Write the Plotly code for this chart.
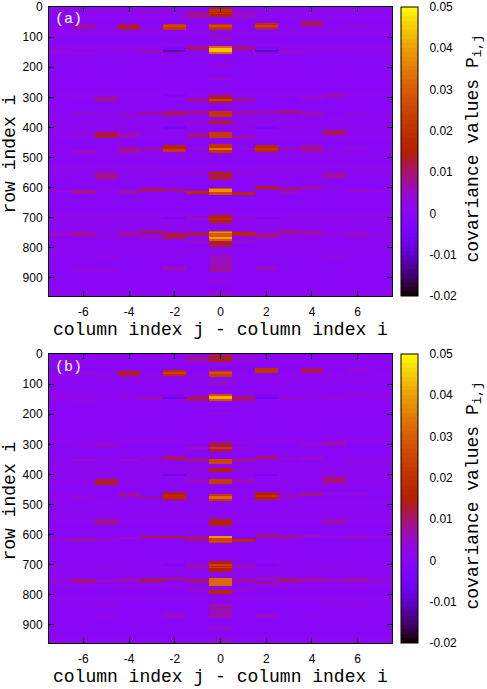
import math
import plotly.graph_objects as go

# column offsets j - i and row bins
offsets = [-7, -6, -5, -4, -3, -2, -1, 0, 1, 2, 3, 4, 5, 6, 7]
row_step = 4
row_count = 240
background = 0.0005
# faint horizontal shading of the background, one value per 20 rows
row_shade = [.0012,.0010,.0006,.0012,.0008,.0004,.0008,.0010,.0004,.0002,.0006,.0003,.0002,.0005,.0008,.0003,
             .0001,.0006,.0009,.0012,.0015,.0012,.0006,.0003,.0008,.0006,.0010,.0012,.0006,.0002,.0003,.0006,
             .0004,.0002,.0008,.0010,.0012,.0013,.0008,.0006,.0010,.0006,.0004,.0002,.0006,.0003,.0006,.0010]

# bands: (first row, last row, covariance); later bands overwrite earlier ones
a_m7 = [(146,152,.003),(348,354,.004),(472,478,.002),(612,618,.006),(754,760,.006)]
a_m6 = [(55,72,.007),(138,142,.004),(150,155,.004),(300,306,.002),(350,356,.005),(415,425,.003),(478,486,.006),(610,622,.009),(750,760,.008),(865,880,.002)]
a_m5 = [(15,20,.003),(138,142,.002),(298,315,.007),(355,360,.005),(415,435,.012),(550,575,.008),(612,618,.005),(705,712,.004),(760,766,.005),(865,880,.002),(825,840,.002)]
a_m4 = [(56,75,.012),(146,150,.004),(308,312,.005),(355,362,.010),(415,435,.006),(465,485,.008),(610,622,.007),(750,762,.008)]
a_m3 = [(16,22,.006),(72,76,.003),(146,150,.007),(348,352,.015),(472,478,.014),(600,610,.008),(606,612,.015),(746,752,.014),(760,770,.006)]
a_m2 = [(55,75,.022),(60,70,.026),(132,150,-.002),(135,138,-.012),(144,147,-.012),(290,300,-.002),(346,362,.010),(355,360,.016),(395,405,-.004),(460,482,.016),(472,482,.022),(545,555,.003),(604,612,.012),(695,703,-.002),(748,772,.010),(764,770,.016),(862,878,.006)]
a_m1 = [(15,35,.008),(134,140,.016),(306,312,.012),(346,358,.009),(380,388,.003),(420,432,.008),(430,434,.015),(468,474,.006),(548,556,.005),(612,622,.018),(700,708,.006),(750,760,.011),(778,790,.004)]
a_0 = [(3,33,.014),(10,16,.021),(22,26,.021),(55,77,.021),(62,68,.028),(92,110,.005),(130,156,.032),(138,148,.044),(193,198,.008),(238,243,.006),(293,322,.013),(306,314,.024),(346,366,.021),(381,390,.015),(418,437,.022),(458,486,.021),(470,478,.033),(548,575,.012),(550,556,.016),(602,625,.026),(606,616,.038),(694,718,.014),(702,708,.018),(745,775,.030),(748,754,.038),(764,772,.041),(775,795,.012),(825,880,.006),(868,876,.009),(905,915,.004),(945,960,.004)]
a_p1 = [(15,35,.005),(134,140,.014),(306,312,.012),(346,358,.008),(380,388,.003),(428,434,.016),(468,474,.006),(548,556,.005),(618,626,.018),(700,708,.005),(750,760,.017),(778,790,.003)]
a_p2 = [(52,72,.019),(60,68,.024),(132,150,-.002),(135,138,-.012),(144,147,-.012),(345,358,.007),(395,404,-.003),(460,482,.018),(468,478,.022),(598,606,.014),(695,703,-.001),(748,760,.007),(764,770,.017),(862,878,.005)]
a_p3 = [(20,26,.005),(146,152,.005),(346,352,.012),(468,474,.012),(600,610,.012),(612,620,.005),(746,752,.012),(760,770,.004)]
a_p4 = [(50,66,.011),(148,154,.003),(298,312,.004),(348,360,.007),(460,482,.008),(596,606,.008),(745,756,.007),(860,870,.002)]
a_p5 = [(140,146,.004),(290,302,.007),(410,425,.011),(468,474,.004),(552,568,.008),(604,610,.004),(700,708,.003),(752,758,.004),(826,840,.002)]
a_p6 = [(55,65,.004),(148,152,.002),(350,356,.003),(465,475,.004),(606,614,.007),(750,760,.005),(860,870,.002)]
a_p7 = [(150,154,.002),(350,354,.002),(610,616,.004),(755,762,.005)]

b_m7 = [(146,152,.002),(348,354,.004),(470,476,.003),(616,622,.007),(752,758,.005)]
b_m6 = [(55,68,.004),(150,156,.004),(300,310,.002),(350,358,.006),(470,480,.004),(612,622,.008),(750,760,.009),(835,845,.002)]
b_m5 = [(296,310,.005),(348,354,.005),(415,435,.013),(550,570,.008),(612,620,.005),(705,712,.004),(752,758,.006),(830,842,.002),(865,880,.002)]
b_m4 = [(56,72,.013),(142,150,.003),(350,358,.006),(460,478,.007),(608,618,.006),(745,757,.006)]
b_m3 = [(16,22,.004),(145,151,.006),(348,354,.010),(472,478,.012),(606,612,.012),(745,757,.010),(762,768,.005)]
b_m2 = [(54,74,.019),(60,70,.024),(136,140,-.003),(144,148,-.006),(340,352,.009),(346,350,.016),(400,404,-.006),(460,486,.015),(470,480,.018),(604,614,.013),(698,703,-.002),(744,754,.008),(746,750,.017),(862,878,.005)]
b_m1 = [(10,30,.007),(140,156,.010),(310,318,.006),(346,360,.008),(384,392,.004),(418,430,.005),(472,476,.003),(604,622,.009),(702,712,.007),(750,762,.009),(782,792,.004)]
b_0 = [(6,28,.012),(10,16,.015),(56,75,.023),(62,70,.028),(92,105,.006),(133,158,.028),(140,149,.042),(195,200,.006),(239,243,.005),(291,324,.011),(308,318,.022),(347,364,.025),(380,393,.014),(416,433,.022),(463,488,.022),(472,480,.032),(548,574,.014),(604,629,.025),(606,614,.040),(690,723,.015),(698,704,.024),(708,712,.024),(745,771,.032),(784,795,.017),(828,878,.006),(840,850,.008),(868,874,.008),(910,915,.005),(945,960,.003)]
b_p1 = [(10,30,.004),(140,156,.010),(310,318,.005),(346,360,.007),(384,392,.003),(418,430,.006),(472,476,.004),(618,624,.018),(702,712,.006),(748,756,.008),(782,792,.003)]
b_p2 = [(50,66,.021),(136,140,-.004),(146,150,-.004),(340,350,.011),(400,406,-.004),(460,484,.015),(470,476,.020),(600,610,.013),(698,703,-.002),(740,752,.006),(762,766,.015),(866,878,.005)]
b_p3 = [(20,26,.004),(148,154,.007),(344,350,.008),(470,476,.009),(604,612,.011),(745,755,.009),(762,770,.003)]
b_p4 = [(50,64,.011),(148,154,.002),(296,310,.003),(342,352,.005),(460,474,.008),(600,610,.006),(742,756,.006),(860,870,.002)]
b_p5 = [(145,151,.004),(290,304,.006),(410,428,.010),(462,470,.004),(548,564,.007),(606,612,.004),(704,712,.004),(750,758,.006),(826,838,.002)]
b_p6 = [(50,60,.003),(136,142,.005),(350,356,.003),(460,470,.003),(604,612,.006),(746,758,.007),(830,840,.002)]
b_p7 = [(140,146,.003),(350,356,.003),(606,612,.004),(750,756,.004)]

panel_a = [a_m7,a_m6,a_m5,a_m4,a_m3,a_m2,a_m1,a_0,a_p1,a_p2,a_p3,a_p4,a_p5,a_p6,a_p7]
panel_b = [b_m7,b_m6,b_m5,b_m4,b_m3,b_m2,b_m1,b_0,b_p1,b_p2,b_p3,b_p4,b_p5,b_p6,b_p7]

x_ticks = [-6, -4, -2, 0, 2, 4, 6]
x_labels = ["-6", "-4", "-2", "0", "2", "4", "6"]
y_ticks = list(range(0, 901, 100))
cbar_ticks = [-0.02, -0.01, 0, 0.01, 0.02, 0.03, 0.04, 0.05]
cbar_labels = ["-0.02", "-0.01", "0", "0.01", "0.02", "0.03", "0.04", "0.05"]
zmin, zmax = -0.02, 0.05

# gnuplot's rgbformulae 7,5,15 sampled in 64 steps
levels = 64
colorscale = []
for k in range(levels):
    for t in (k / levels, (k + 1) / levels):
        m = (k + 0.5) / levels
        r, g, b = math.sqrt(m), m ** 3, max(0, math.sin(2 * math.pi * m))
        colorscale.append([t, f"rgb({r*255:.0f},{g*255:.0f},{b*255:.0f})"])

rows = [row_step * (n + 0.5) for n in range(row_count)]


def to_grid(columns):
    grid = [[row_shade[int(r // 20)] for _ in columns] for r in rows]
    for c, bands in enumerate(columns):
        for first, last, value in bands:
            for n, row in enumerate(rows):
                if first <= row < last:
                    grid[n][c] = value
    return grid


W, H = 487, 689
fx = lambda px: px / W
fy = lambda py: 1 - py / H
MONO = "Liberation Mono"
SANS = "Liberation Sans"
BAR_L, BAR_R = 401, 418

fig = go.Figure()
panels = [(panel_a, "x", "y", 7, 296, "(a)"), (panel_b, "x2", "y2", 354, 643, "(b)")]
for columns, xa, ya, top, bottom, tag in panels:
    fig.add_trace(go.Heatmap(
        x=offsets, y=rows, z=to_grid(columns), xaxis=xa, yaxis=ya,
        zmin=zmin, zmax=zmax, colorscale=colorscale, zsmooth=False,
        colorbar=dict(
            x=fx(BAR_L), xanchor="left", xref="paper", y=fy(bottom), yanchor="bottom",
            len=(bottom - top) / H, lenmode="fraction", thickness=BAR_R - BAR_L, thicknessmode="pixels",
            xpad=0, ypad=0, outlinecolor="black", outlinewidth=1,
            tickmode="array", tickvals=cbar_ticks, ticktext=cbar_labels,
            ticks="outside", ticklen=9, tickcolor="rgba(0,0,0,0)",
            tickfont=dict(family=SANS, size=12, color="black"),
        ),
    ))
    for v in cbar_ticks[1:-1]:
        py = bottom - (v - zmin) / (zmax - zmin) * (bottom - top)
        for a, b in ((BAR_L, BAR_L + 4), (BAR_R - 4, BAR_R)):
            fig.add_shape(type="line", xref="paper", yref="paper", x0=fx(a), x1=fx(b), y0=fy(py), y1=fy(py),
                          line=dict(color="black", width=1))
    fig.add_annotation(xref="paper", yref="paper", x=fx(53), y=fy(top + 13), text=tag,
                       showarrow=False, xanchor="left", yanchor="middle",
                       font=dict(family=MONO, size=15, color="white"))
    fig.add_annotation(xref="paper", yref="paper", x=fx(9), y=fy((top + bottom) / 2 + 3), text="row index i",
                       showarrow=False, textangle=-90, xanchor="center", yanchor="middle",
                       font=dict(family=MONO, size=18, color="black"))
    fig.add_annotation(xref="paper", yref="paper", x=fx(220), y=fy(bottom + 34),
                       text="column index j - column index i", showarrow=False, xanchor="center", yanchor="middle",
                       font=dict(family=MONO, size=18, color="black"))
    fig.add_annotation(xref="paper", yref="paper", x=fx(474), y=fy((top + bottom) / 2 - 3),
                       text="covariance values P<sub>i,j</sub>", showarrow=False, textangle=-90,
                       xanchor="center", yanchor="middle",
                       font=dict(family=MONO, size=18, color="black"))

axis_x = dict(range=[-7.5, 7.5], tickmode="array", tickvals=x_ticks, ticktext=x_labels, ticks="inside", ticklen=5,
              tickcolor="black", showgrid=False, zeroline=False, showline=True, linecolor="black",
              linewidth=1, mirror="allticks", ticklabelstandoff=5, tickfont=dict(family=SANS, size=12, color="black"))
axis_y = dict(range=[960, 0], tickmode="array", tickvals=y_ticks, ticks="inside", ticklen=5,
              tickcolor="black", showgrid=False, zeroline=False, showline=True, linecolor="black",
              linewidth=1, mirror="allticks", ticklabelstandoff=3, tickfont=dict(family=SANS, size=12, color="black"))

fig.update_layout(
    width=W, height=H, margin=dict(l=0, r=0, t=0, b=0, autoexpand=False),
    paper_bgcolor="white", plot_bgcolor="white", showlegend=False,
    xaxis=dict(axis_x, domain=[fx(49), fx(392)], anchor="y"),
    yaxis=dict(axis_y, domain=[fy(296), fy(7)], anchor="x"),
    xaxis2=dict(axis_x, domain=[fx(49), fx(392)], anchor="y2"),
    yaxis2=dict(axis_y, domain=[fy(643), fy(354)], anchor="x2"),
)
fig.write_html("out.html", config=dict(displayModeBar=False),
               post_script="document.body.style.margin='0';document.body.style.overflow='hidden';")
